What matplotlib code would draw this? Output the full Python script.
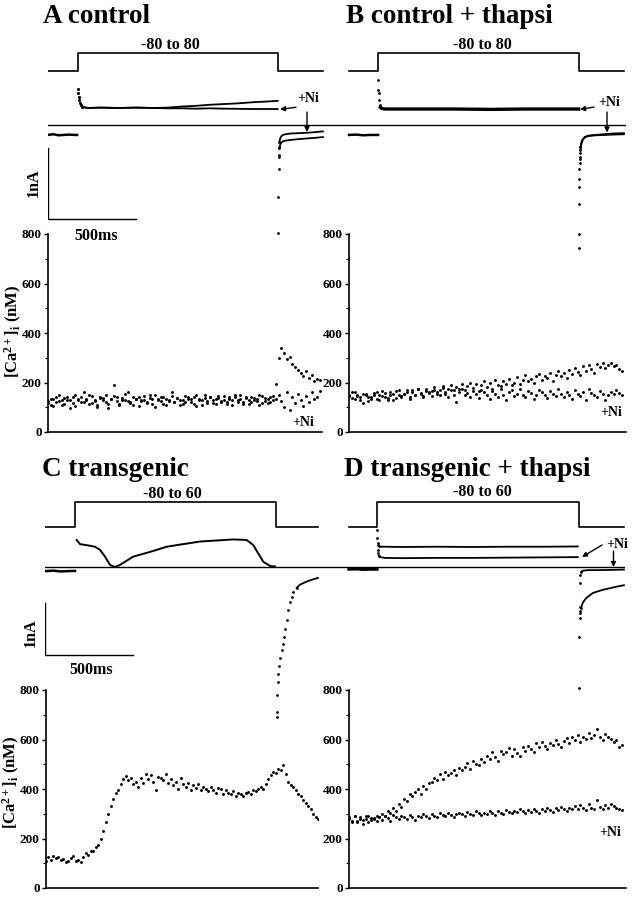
import numpy as np
import matplotlib
matplotlib.use('Agg')
import matplotlib.pyplot as plt
from matplotlib.ticker import MultipleLocator

plt.rcParams['font.family'] = ['Liberation Serif', 'DejaVu Serif']
plt.rcParams['font.weight'] = 'bold'
plt.rcParams['mathtext.fontset'] = 'custom'
plt.rcParams['mathtext.rm'] = 'Liberation Serif:bold'
plt.rcParams['mathtext.it'] = 'Liberation Serif:bold'
plt.rcParams['mathtext.bf'] = 'Liberation Serif:bold'
plt.rcParams['mathtext.default'] = 'rm'

# ---------------- data ----------------
# voltage protocols (ms, mV)
VA_t = [0, 170, 170, 1307, 1307, 1562]
VA = [-80, -80, 80, 80, -80, -80]
VB_t = [0, 165, 165, 1307, 1307, 1562]
VB = [-80, -80, 80, 80, -80, -80]
VC_t = [-6, 165, 165, 1307, 1307, 1545]
VC = [-80, -80, 60, 60, -80, -80]
VD_t = [0, 159, 159, 1307, 1307, 1562]
VD = [-80, -80, 60, 60, -80, -80]

# membrane currents (ms, nA)
A_pre_t = [0, 30, 60, 90, 120, 150, 165]
A_pre_I = [-0.14, -0.13, -0.145, -0.14, -0.135, -0.14, -0.14]
A_on_t = [170, 172, 174, 177, 181, 186, 193, 202, 215, 235, 300, 400, 500, 600,
          680, 760, 840, 920, 1000, 1080, 1160, 1240, 1305]
A_ctrl_I = [0.51, 0.45, 0.40, 0.35, 0.31, 0.28, 0.26, 0.25, 0.245, 0.24, 0.245, 0.24,
            0.245, 0.24, 0.245, 0.26, 0.27, 0.285, 0.295, 0.305, 0.32, 0.33, 0.34]
A_ni_I = [0.51, 0.45, 0.40, 0.35, 0.31, 0.28, 0.26, 0.25, 0.245, 0.24, 0.245, 0.24,
          0.245, 0.24, 0.235, 0.235, 0.23, 0.235, 0.23, 0.228, 0.225, 0.225, 0.225]
A_tail_t = [1308, 1310, 1312, 1315, 1319, 1325, 1335, 1350, 1380, 1420, 1470, 1520, 1562]
A_tail_ctrl = [-1.52, -0.45, -0.31, -0.24, -0.19, -0.16, -0.14, -0.13, -0.12, -0.115,
               -0.11, -0.10, -0.09]
A_tail_ni = [-1.01, -0.62, -0.42, -0.33, -0.28, -0.25, -0.23, -0.22, -0.21, -0.20,
             -0.19, -0.18, -0.17]

B_pre_t = [0, 40, 80, 120, 165]
B_pre_I = [-0.14, -0.135, -0.145, -0.14, -0.14]
B_on_t = [165, 167, 169, 171, 174, 178, 184, 192, 205, 230, 400, 600, 800, 1000, 1200, 1305]
B_on_I = [0.63, 0.49, 0.45, 0.35, 0.28, 0.25, 0.235, 0.23, 0.225, 0.225, 0.225, 0.225,
          0.22, 0.225, 0.225, 0.225]
B_tail_t = [1307, 1308, 1309, 1310, 1312, 1315, 1320, 1328, 1340, 1360, 1400, 1450, 1500, 1562]
B_tail_ctrl = [-1.73, -1.11, -0.76, -0.54, -0.45, -0.35, -0.27, -0.21, -0.17, -0.15,
               -0.14, -0.13, -0.12, -0.115]
B_tail_ni = [-1.54, -0.87, -0.62, -0.48, -0.40, -0.31, -0.25, -0.20, -0.17, -0.155,
             -0.145, -0.14, -0.135, -0.13]

C_pre_t = [-6, 40, 80, 120, 165]
C_pre_I = [-0.08, -0.07, -0.085, -0.08, -0.075]
C_on_t = [174, 193, 231, 278, 307, 335, 364, 392, 420, 496, 591, 686, 780, 875, 970,
          1064, 1140, 1178, 1206, 1235, 1273, 1301]
C_on_I = [0.52, 0.44, 0.42, 0.39, 0.33, 0.20, 0.04, 0.0, 0.04, 0.20, 0.29, 0.39, 0.44,
          0.49, 0.51, 0.53, 0.52, 0.42, 0.26, 0.10, 0.02, 0.01]
C_tail_t = [1310, 1312, 1314, 1316, 1318, 1324, 1332, 1339, 1345, 1352, 1360, 1368, 1377,
            1386, 1396, 1405, 1424, 1443, 1481, 1515, 1545]
C_tail_I = [-2.88, -2.78, -2.46, -2.21, -2.05, -1.90, -1.75, -1.60, -1.48, -1.35, -1.20,
            -1.02, -0.83, -0.67, -0.57, -0.48, -0.40, -0.34, -0.28, -0.24, -0.21]

D_pre_t = [0, 40, 80, 120, 159]
D_pre_I = [-0.04, -0.035, -0.045, -0.04, -0.04]
D_ctrl_t = [159, 161, 163, 166, 170, 180, 200, 300, 500, 700, 900, 1100, 1300]
D_ctrl_I = [0.71, 0.55, 0.46, 0.42, 0.40, 0.39, 0.39, 0.385, 0.39, 0.385, 0.39, 0.39, 0.395]
D_ni_t = [163, 166, 170, 180, 200, 300, 500, 700, 900, 1100, 1300]
D_ni_I = [0.33, 0.27, 0.22, 0.19, 0.175, 0.17, 0.175, 0.175, 0.18, 0.185, 0.19]
D_tail_ctrl_t = [1308, 1309, 1311, 1313, 1315, 1318, 1328, 1347, 1385, 1441, 1517, 1562]
D_tail_ctrl_I = [-2.33, -1.34, -0.98, -0.89, -0.84, -0.79, -0.69, -0.60, -0.50, -0.44,
                 -0.38, -0.35]
D_tail_ni_t = [1310, 1312, 1315, 1320, 1330, 1360, 1420, 1500, 1562]
D_tail_ni_I = [-0.76, -0.31, -0.15, -0.09, -0.07, -0.06, -0.06, -0.055, -0.05]

# intracellular Ca2+ (nM), regularly sampled
CaA_ctrl = [
    118, 132, 105, 140, 125, 110, 138, 128, 95, 142,
    150, 135, 120, 160, 130, 112, 145, 125, 100, 138,
    128, 148, 115, 135, 188, 140, 108, 130, 152, 126,
    118, 140, 132, 105, 128, 145, 120, 138, 112, 150,
    135, 125, 142, 110, 130, 160, 122, 138, 128, 115,
    145, 132, 120, 140, 105, 135, 128, 150, 118, 142,
    130, 112, 138, 125, 145, 120, 135, 108, 140, 128,
    150, 122, 136, 115, 142, 130, 125, 148, 118, 138,
    132, 120, 145, 192,
    300, 338, 320, 295, 305, 275, 262, 250, 240, 228, 245, 218, 230, 205, 215, 210]
CaA_ni = [
    125, 108, 135, 120, 148, 128, 115, 140, 130, 118,
    105, 128, 140, 122, 135, 150, 118, 130, 110, 142,
    138, 120, 95, 132, 145, 125, 115, 138, 128, 160,
    120, 110, 135, 142, 125, 130, 118, 148, 135, 100,
    128, 140, 115, 132, 125, 145, 120, 138, 108, 130,
    122, 140, 135, 115, 150, 128, 110, 138, 125, 142,
    118, 132, 145, 120, 130, 112, 140, 128, 150, 122,
    135, 115, 142, 128, 120, 138, 132, 110, 145, 125,
    118, 140, 128, 135,
    150, 125, 100, 160, 88, 140, 118, 155, 130, 105, 145, 120, 160, 135, 142, 165]
CaB_ctrl = [
    150, 138, 160, 145, 130, 155, 148, 125, 140, 158,
    135, 150, 165, 142, 128, 160, 152, 138, 170, 145,
    155, 162, 140, 168, 150, 175, 158, 145, 172, 160,
    165, 180, 155, 170, 185, 162, 175, 190, 168, 180,
    175, 195, 170, 185, 200, 178, 192, 165, 188, 205,
    182, 198, 175, 210, 190, 185, 205, 195, 215, 188,
    200, 222, 195, 210, 230, 205, 215, 198, 225, 235,
    210, 228, 218, 240, 205, 232, 245, 225, 238, 220,
    250, 235, 258, 242, 230, 265, 248, 272, 255, 240,
    275, 262, 280, 258, 270, 278, 265, 272, 255, 245]
CaB_ni = [
    145, 160, 132, 150, 140, 118, 155, 142, 135, 150,
    162, 128, 145, 158, 138, 150, 130, 165, 148, 140,
    155, 170, 135, 160, 148, 175, 152, 140, 165, 158,
    145, 170, 160, 150, 178, 155, 140, 168, 150, 120,
    162, 175, 148, 158, 140, 165, 152, 138, 170, 160,
    148, 135, 165, 155, 140, 172, 150, 130, 160, 168,
    145, 155, 175, 150, 140, 165, 158, 132, 148, 170,
    160, 150, 138, 165, 155, 145, 172, 152, 140, 160,
    150, 135, 168, 155, 145, 160, 130, 175, 158, 150,
    140, 165, 155, 128, 148, 160, 152, 170, 158, 150]
CaC = [
    110, 125, 115, 130, 120, 125, 112, 118, 105, 110,
    122, 128, 108, 112, 105, 125, 140, 135, 150, 148,
    165, 172, 200, 230, 265, 300, 330, 360, 385, 395,
    420, 440, 452, 435, 445, 420, 430, 410, 445, 425,
    462, 440, 455, 430, 395, 450, 445, 435, 460, 425,
    440, 415, 430, 400, 445, 420, 410, 425, 395, 415,
    405, 420, 395, 410, 400, 390, 410, 395, 385, 405,
    398, 380, 395, 385, 378, 390, 372, 385, 378, 370,
    382, 388, 378, 395, 390, 400, 410, 398, 420, 440,
    455, 470, 465, 480, 478, 495, 460, 430, 415, 408,
    395, 380, 372, 355, 345, 330, 318, 300, 285, 280]
CaD_ctrl = [
    285, 270, 292, 265, 280, 275, 290, 268, 282, 278,
    290, 285, 300, 292, 310, 305, 325, 310, 340, 328,
    360, 350, 378, 370, 388, 400, 380, 412, 398, 425,
    430, 445, 438, 460, 442, 470, 455, 465, 478, 458,
    485, 475, 490, 505, 482, 515, 500, 495, 520, 508,
    535, 520, 548, 530, 515, 555, 540, 550, 565, 535,
    560, 545, 535, 570, 555, 575, 560, 548, 585, 568,
    590, 572, 560, 585, 578, 600, 580, 570, 595, 605,
    585, 610, 598, 618, 590, 612, 602, 625, 605, 620,
    642, 610, 598, 622, 612, 602, 588, 598, 570, 578]
CaD_ni = [
    280, 268, 290, 272, 285, 260, 278, 292, 275, 282,
    270, 288, 276, 290, 282, 272, 295, 285, 278, 290,
    286, 280, 295, 288, 276, 292, 285, 298, 290, 282,
    300, 292, 288, 305, 295, 290, 302, 296, 288, 300,
    305, 298, 292, 308, 300, 295, 310, 302, 296, 305,
    300, 310, 304, 296, 312, 305, 300, 315, 308, 302,
    312, 306, 318, 310, 302, 315, 308, 320, 312, 305,
    318, 312, 325, 315, 308, 322, 316, 328, 318, 312,
    325, 320, 330, 318, 335, 322, 315, 340, 325, 318,
    355, 328, 320, 335, 325, 340, 330, 322, 318, 315]
CA_TICKS = [0, 200, 400, 600, 800]

# ---------------- layout ----------------
W, H = 632, 900
fig = plt.figure(figsize=(6.32, 9.0), dpi=100)
PX = 0.176  # pixels per ms
K = 'black'


def add_ax(l, r, t, b):
    ax = fig.add_axes([l / W, 1 - b / H, (r - l) / W, (b - t) / H])
    ax.patch.set_visible(False)
    return ax


def trace_ax(l, r, t, b, x0, y0, yscale):
    ax = add_ax(l, r, t, b)
    ax.set_xlim((l - x0) / PX, (r - x0) / PX)
    ax.set_ylim((y0 - b) / yscale, (y0 - t) / yscale)
    ax.axis('off')
    return ax


def ca_ax(l, r, t, b):
    ax = add_ax(l, r, t, b)
    ax.set_xlim(0, (r - l) / PX)
    ax.set_ylim(0, 800)
    for s in ['top', 'right']:
        ax.spines[s].set_visible(False)
    for s in ['left', 'bottom']:
        ax.spines[s].set_linewidth(1.2)
    ax.set_xticks([])
    ax.set_yticks(CA_TICKS)
    ax.yaxis.set_minor_locator(MultipleLocator(100))
    ax.tick_params(axis='y', which='major', length=3, width=1.0, pad=1.5, labelsize=9.5)
    ax.tick_params(axis='y', which='minor', length=2, width=0.8)
    return ax


def dots(ax, t, y, ms=2.1):
    ax.plot(t, y, 'o', ms=ms, mew=0, color=K)


def trace(ax, t, y, line_from, lw=1.3):
    dots(ax, t[:line_from + 1], y[:line_from + 1], ms=2.0)
    ax.plot(t[line_from:], y[line_from:], '-', lw=lw, color=K)


# ---- Panel A ----
vA = trace_ax(48, 326, 40, 80, 48, 62, 0.1125)
vA.plot(VA_t, VA, color=K, lw=1.2)
iA = trace_ax(48, 326, 40, 255, 48, 125, 71)
iA.axhline(0, color=K, lw=1.0)
iA.plot(A_pre_t, A_pre_I, color=K, lw=1.8)
trace(iA, A_on_t, A_ctrl_I, 6)
trace(iA, A_on_t, A_ni_I, 6)
trace(iA, A_tail_t, A_tail_ctrl, 3)
trace(iA, A_tail_t, A_tail_ni, 3)
iA.plot([0, 0, 500], [-0.324, -1.324, -1.324], color=K, lw=1.0)
cA = ca_ax(48, 322, 234, 432)
dots(cA, np.linspace(0, 1545, len(CaA_ctrl)), CaA_ctrl)
dots(cA, np.linspace(0, 1545, len(CaA_ni)), CaA_ni)

# ---- Panel B ----
vB = trace_ax(326, 626, 40, 80, 349, 62, 0.1125)
vB.plot(VB_t, VB, color=K, lw=1.2)
iB = trace_ax(326, 626, 40, 255, 349, 125, 71)
iB.axhline(0, color=K, lw=1.0)
iB.plot(B_pre_t, B_pre_I, color=K, lw=1.8)
trace(iB, B_on_t, B_on_I, 5, lw=2.4)
trace(iB, B_tail_t, B_tail_ctrl, 5)
trace(iB, B_tail_t, B_tail_ni, 5)
cB = ca_ax(349, 626, 234, 432)
dots(cB, np.linspace(0, 1550, len(CaB_ctrl)), CaB_ctrl)
dots(cB, np.linspace(0, 1550, len(CaB_ni)), CaB_ni)

# ---- Panel C ----
vC = trace_ax(45, 320, 485, 535, 46, 512.7, 0.1786)
vC.plot(VC_t, VC, color=K, lw=1.2)
iC = trace_ax(45, 320, 480, 730, 46, 567, 52)
iC.axhline(0, color=K, lw=1.0)
iC.plot(C_pre_t, C_pre_I, color=K, lw=1.8)
iC.plot(C_on_t, C_on_I, color=K, lw=1.4)
trace(iC, C_tail_t, C_tail_I, 16)
iC.plot([-6, -6, 494], [-0.692, -1.692, -1.692], color=K, lw=1.0)
cC = ca_ax(46, 318, 690, 888)
dots(cC, np.linspace(0, 1547, len(CaC)), CaC)

# ---- Panel D ----
vD = trace_ax(320, 625, 485, 535, 349, 512.7, 0.1786)
vD.plot(VD_t, VD, color=K, lw=1.2)
iD = trace_ax(320, 625, 480, 730, 349, 567, 52)
iD.axhline(0, color=K, lw=1.0)
iD.plot(D_pre_t, D_pre_I, color=K, lw=2.4)
trace(iD, D_ctrl_t, D_ctrl_I, 4)
trace(iD, D_ni_t, D_ni_I, 2)
trace(iD, D_tail_ctrl_t, D_tail_ctrl_I, 5)
trace(iD, D_tail_ni_t, D_tail_ni_I, 3)
cD = ca_ax(349, 626, 690, 888)
dots(cD, np.linspace(0, 1550, len(CaD_ctrl)), CaD_ctrl)
dots(cD, np.linspace(0, 1550, len(CaD_ni)), CaD_ni)

# ---------------- annotations (overlay in pixel coords) ----------------
ov = fig.add_axes([0, 0, 1, 1])
ov.set_xlim(0, W)
ov.set_ylim(H, 0)
ov.axis('off')
ov.patch.set_visible(False)

TS = 19.5
ov.text(43, 23, 'A control', fontsize=TS, fontweight='bold', va='baseline', ha='left')
ov.text(346, 23, 'B control + thapsi', fontsize=TS, fontweight='bold', va='baseline', ha='left')
ov.text(42, 476, 'C transgenic', fontsize=TS, fontweight='bold', va='baseline', ha='left')
ov.text(344, 476, 'D transgenic + thapsi', fontsize=TS, fontweight='bold', va='baseline', ha='left')

VS = 11.5
ov.text(170, 49, '-80 to 80', fontsize=VS, ha='center', va='baseline')
ov.text(482, 49, '-80 to 80', fontsize=VS, ha='center', va='baseline')
ov.text(172, 498, '-80 to 60', fontsize=VS, ha='center', va='baseline')
ov.text(482, 496, '-80 to 60', fontsize=VS, ha='center', va='baseline')

SS = 11.5
ov.text(34, 183, '1nA', fontsize=SS, rotation=90, ha='center', va='center')
ov.text(96, 236, '500ms', fontsize=SS, ha='center', va='center')
ov.text(31, 633, '1nA', fontsize=SS, rotation=90, ha='center', va='center')
ov.text(91, 670, '500ms', fontsize=SS, ha='center', va='center')

LS = 12
ylab = r'[Ca$^{2+}$]$_{i}$ (nM)'
ov.text(13, 331, ylab, fontsize=LS, rotation=90, ha='center', va='center')
ov.text(11, 782, ylab, fontsize=LS, rotation=90, ha='center', va='center')

NS = 10
ov.text(314, 423, '+Ni', fontsize=NS, ha='right', va='center')
ov.text(622, 413, '+Ni', fontsize=NS, ha='right', va='center')
ov.text(621, 832, '+Ni', fontsize=NS, ha='right', va='center')
ov.text(297, 99, '+Ni', fontsize=NS, ha='left', va='center')
ov.text(598, 102, '+Ni', fontsize=NS, ha='left', va='center')
ov.text(606, 545, '+Ni', fontsize=NS, ha='left', va='center')

ap = dict(arrowstyle='-|>', lw=1.0, color=K, mutation_scale=7, shrinkA=0, shrinkB=0)
for (x1, y1, x2, y2) in [(296, 107.3, 280, 109.3), (307, 112, 307, 132),
                         (594, 107, 580, 109.5), (607, 112, 607, 132.5),
                         (602, 545, 582, 557), (613.5, 551, 613.5, 567)]:
    ov.annotate('', xy=(x2, y2), xytext=(x1, y1), arrowprops=ap)

fig.savefig('out.png', dpi=100)
